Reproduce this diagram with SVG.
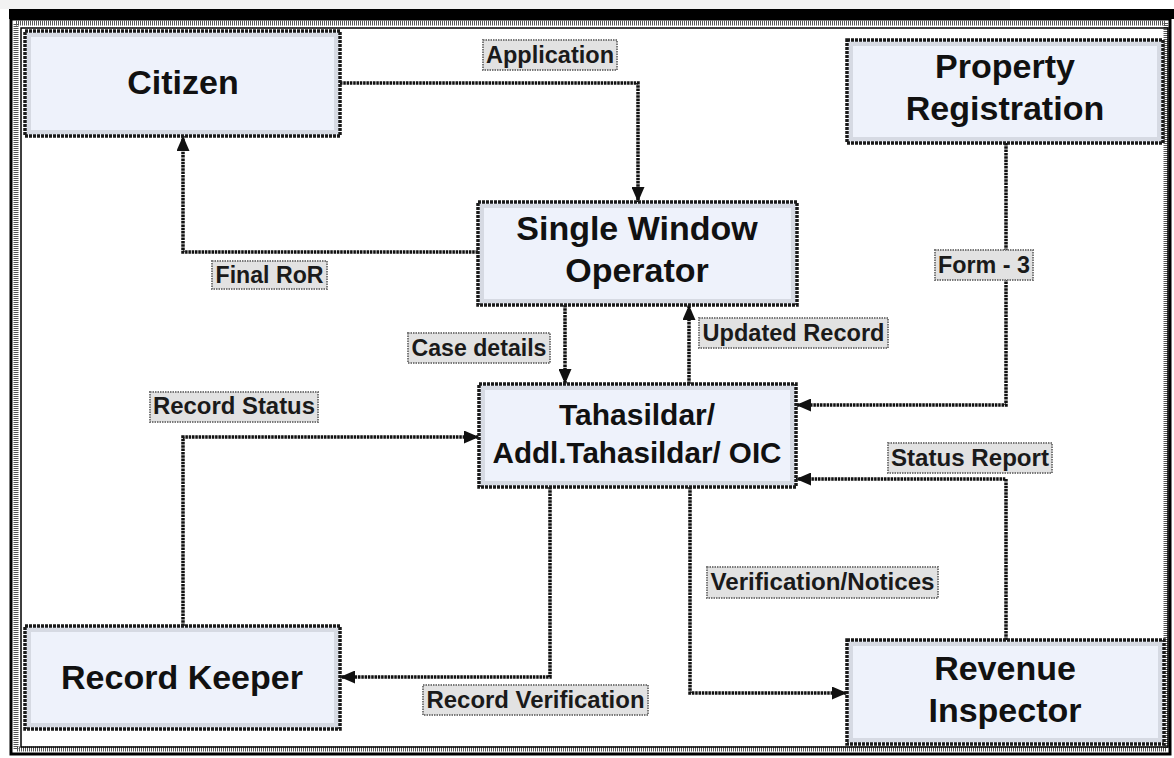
<svg xmlns="http://www.w3.org/2000/svg" width="1174" height="758" viewBox="0 0 1174 758">
<defs>
<style>
.node rect.box{fill:#eef2fb;stroke:#1a1a1a;stroke-width:3.5;stroke-dasharray:3 1}
.node rect.glow{fill:none;stroke:#d6dae3;stroke-width:4}
.node text{font-family:"Liberation Sans",Arial,sans-serif;font-weight:bold;fill:#111;text-anchor:middle}
.lbl rect{fill:#e2e2e2;stroke:#7a7a7a;stroke-width:2;stroke-dasharray:1.5 1}
.lbl text{font-family:"Liberation Sans",Arial,sans-serif;font-weight:bold;font-size:23px;fill:#1a1a1a;text-anchor:middle}
.conn path{fill:none;stroke:#111;stroke-width:3.5;stroke-dasharray:2.5 0.8}
</style>
<marker id="arr" markerUnits="userSpaceOnUse" markerWidth="15" markerHeight="13" refX="15" refY="6.5" orient="auto">
<path d="M0,0 L15,6.5 L0,13 Z" fill="#111"/>
</marker>
</defs>
<rect width="1174" height="758" fill="#ffffff"/>
<rect x="0" y="0" width="1010" height="9" fill="#f2f2f2"/>
<g id="frame">
<rect x="9" y="9" width="1165" height="10" fill="#000"/>
<rect x="11" y="19" width="1159" height="735" fill="none" stroke="#000" stroke-width="3"/>
<rect x="16" y="23" width="1150" height="726" fill="none" stroke="#555" stroke-width="5" stroke-dasharray="1 1"/>
<rect x="21" y="28" width="1147" height="719" fill="none" stroke="#000" stroke-width="1.5"/>
</g>
<g id="connectors" class="conn">
<path d="M340,83 H638 V202" marker-end="url(#arr)"/>
<path d="M478,252 H183 V136" marker-end="url(#arr)"/>
<path d="M565,305 V384" marker-end="url(#arr)"/>
<path d="M689,384 V305" marker-end="url(#arr)"/>
<path d="M1006,143 V405 H796" marker-end="url(#arr)"/>
<path d="M1006,640 V479 H796" marker-end="url(#arr)"/>
<path d="M690,487 V693 H847" marker-end="url(#arr)"/>
<path d="M550,487 V677 H340" marker-end="url(#arr)"/>
<path d="M183,626 V437 H479" marker-end="url(#arr)"/>
</g>
<g id="citizen" class="node">
<rect class="box" x="25" y="31" width="315" height="105"/>
<rect class="glow" x="29" y="35" width="307" height="97"/>
<text x="183" y="94" font-size="34">Citizen</text>
</g>
<g id="property-registration" class="node">
<rect class="box" x="847" y="40" width="316" height="103"/>
<rect class="glow" x="851" y="44" width="308" height="95"/>
<text x="1005" y="78" font-size="34">Property</text>
<text x="1005" y="120" font-size="34">Registration</text>
</g>
<g id="single-window-operator" class="node">
<rect class="box" x="478" y="202" width="319" height="103"/>
<rect class="glow" x="482" y="206" width="311" height="95"/>
<text x="637" y="240" font-size="34">Single Window</text>
<text x="637" y="282" font-size="34">Operator</text>
</g>
<g id="tahasildar" class="node">
<rect class="box" x="479" y="384" width="317" height="103"/>
<rect class="glow" x="483" y="388" width="309" height="95"/>
<text x="637" y="425" font-size="30">Tahasildar/</text>
<text x="637" y="463" font-size="30" textLength="289" lengthAdjust="spacingAndGlyphs">Addl.Tahasildar/ OIC</text>
</g>
<g id="record-keeper" class="node">
<rect class="box" x="25" y="626" width="315" height="103"/>
<rect class="glow" x="29" y="630" width="307" height="95"/>
<text x="182" y="689" font-size="34">Record Keeper</text>
</g>
<g id="revenue-inspector" class="node">
<rect class="box" x="847" y="640" width="317" height="104"/>
<rect class="glow" x="851" y="644" width="309" height="96"/>
<text x="1005" y="680" font-size="34">Revenue</text>
<text x="1005" y="722" font-size="34">Inspector</text>
</g>
<g id="labels">
<g class="lbl"><rect x="483" y="40" width="134" height="30"/><text x="550" y="63" textLength="128" lengthAdjust="spacingAndGlyphs">Application</text></g>
<g class="lbl"><rect x="212" y="261" width="115" height="28"/><text x="269.5" y="283" textLength="108" lengthAdjust="spacingAndGlyphs">Final RoR</text></g>
<g class="lbl"><rect x="408" y="333" width="142" height="30"/><text x="479" y="356" textLength="135" lengthAdjust="spacingAndGlyphs">Case details</text></g>
<g class="lbl"><rect x="699" y="318" width="189" height="30"/><text x="793.5" y="341" textLength="182" lengthAdjust="spacingAndGlyphs">Updated Record</text></g>
<g class="lbl"><rect x="935" y="250" width="98" height="30"/><text x="984" y="273" textLength="92" lengthAdjust="spacingAndGlyphs">Form - 3</text></g>
<g class="lbl"><rect x="150" y="392" width="168" height="30"/><text x="234" y="414" textLength="162" lengthAdjust="spacingAndGlyphs">Record Status</text></g>
<g class="lbl"><rect x="888" y="443" width="164" height="30"/><text x="970" y="466" textLength="158" lengthAdjust="spacingAndGlyphs">Status Report</text></g>
<g class="lbl"><rect x="707" y="567" width="231" height="31"/><text x="822.5" y="590" textLength="224" lengthAdjust="spacingAndGlyphs">Verification/Notices</text></g>
<g class="lbl"><rect x="423" y="685" width="225" height="30"/><text x="535.5" y="708" textLength="218" lengthAdjust="spacingAndGlyphs">Record Verification</text></g>
</g>
</svg>
